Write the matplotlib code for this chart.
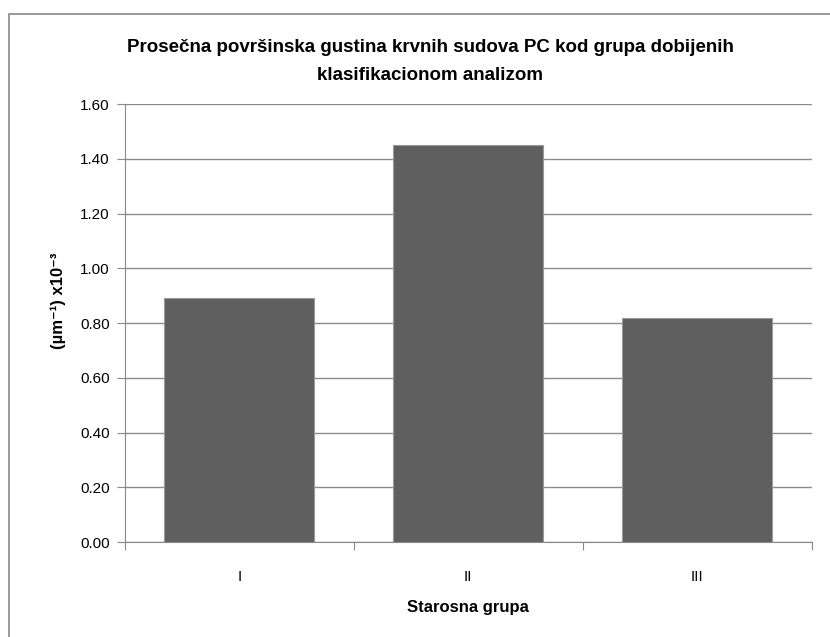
import numpy as np
import matplotlib.pyplot as plt
from matplotlib.patches import Rectangle

plt.rcParams['font.family'] = ['Liberation Sans', 'DejaVu Sans']

grupe = ['I', 'II', 'III']
gustina = [0.89, 1.45, 0.82]
yticks = [0.0, 0.2, 0.4, 0.6, 0.8, 1.0, 1.2, 1.4, 1.6]

fig = plt.figure(figsize=(8.3, 6.37), dpi=100)
ax = fig.add_axes([0.1506, 0.1491, 0.8274, 0.6876])

# okvir grafikona
fig.patches.append(Rectangle((9/830, -0.1), 1.2, 1 - 14/637 + 0.1, transform=fig.transFigure,
                             fill=False, edgecolor='#888888', linewidth=1.2))

x = np.arange(len(grupe))
ax.bar(x, gustina, width=0.655, color='#5f5f5f', edgecolor='#9a9a9a', linewidth=0.8, zorder=3)

ax.set_xlim(-0.5, 2.5)
ax.set_ylim(0, 1.6)
ax.set_yticks(yticks)
ax.set_yticklabels(['%.2f' % v for v in yticks], fontsize=11)
ax.yaxis.grid(True, color='#8c8c8c', linewidth=1)
ax.set_axisbelow(True)

ax.set_xticks([-0.5, 0.5, 1.5, 2.5])
ax.set_xticklabels([])
ax.set_xticks(x, minor=True)
ax.set_xticklabels(grupe, minor=True, fontsize=11)
ax.tick_params(axis='x', which='minor', length=0, pad=20)
ax.tick_params(axis='x', which='major', length=6, color='#888888')
ax.tick_params(axis='y', length=6, color='#888888', pad=5)

for s in ['top', 'right']:
    ax.spines[s].set_visible(False)
for s in ['left', 'bottom']:
    ax.spines[s].set_color('#888888')

fig.text(0.518, 0.904, 'Prosečna površinska gustina krvnih sudova PC kod grupa dobijenih\nklasifikacionom analizom',
         ha='center', va='center', fontsize=13.5, fontweight='bold', linespacing=1.85)
ax.set_xlabel('Starosna grupa', fontsize=12, fontweight='bold', labelpad=12)
fig.text(58/830, 1 - 301/637, '(µm⁻¹) x10⁻³', rotation=90, ha='center', va='center',
         fontsize=12, fontweight='bold')

fig.savefig('out.png', dpi=100)
